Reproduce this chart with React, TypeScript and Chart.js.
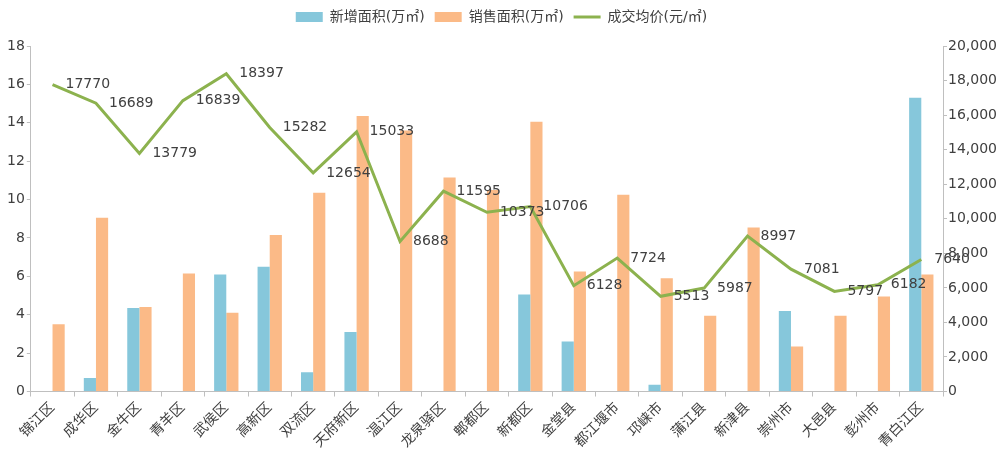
import React, { useEffect, useRef } from "react";
import { Chart, registerables } from "chart.js";

Chart.register(...registerables);

const categories = ["锦江区","成华区","金牛区","青羊区","武侯区","高新区","双流区","天府新区","温江区","龙泉驿区","郫都区","新都区","金堂县","都江堰市","邛崃市","蒲江县","新津县","崇州市","大邑县","彭州市","青白江区"];
const newArea = [0, 0.7, 4.35, 0, 6.1, 6.5, 1.0, 3.1, 0, 0, 0, 5.05, 2.6, 0, 0.35, 0, 0, 4.2, 0, 0, 15.3];
const salesArea = [3.5, 9.05, 4.4, 6.15, 4.1, 8.15, 10.35, 14.35, 13.6, 11.15, 10.5, 14.05, 6.25, 10.25, 5.9, 3.95, 8.55, 2.35, 3.95, 4.95, 6.1];
const avgPrice = [17770,16689,13779,16839,18397,15282,12654,15033,8688,11595,10373,10706,6128,7724,5513,5987,8997,7081,5797,6182,7640];
const seriesNames = ["新增面积(万㎡)", "销售面积(万㎡)", "成交均价(元/㎡)"];

const FONT = "'DejaVu Sans', 'Noto Sans CJK SC', sans-serif";
const BLUE = "#86C7DB";
const ORANGE = "#FBBA87";
const GREEN = "#8CB24E";

const labelPlugin = {
  id: "priceLabels",
  afterDatasetsDraw(chart: any) {
    const meta = chart.getDatasetMeta(2);
    const ctx = chart.ctx;
    ctx.save();
    ctx.font = "14px " + FONT;
    ctx.fillStyle = "#404040";
    ctx.textAlign = "left";
    ctx.textBaseline = "middle";
    meta.data.forEach((pt: any, i: number) => {
      ctx.fillText(String(avgPrice[i]), pt.x + 13, pt.y);
    });
    ctx.restore();
  },
};

const legendGap = {
  id: "legendGap",
  beforeInit(chart: any) {
    const legend = chart.legend;
    if (!legend) return;
    const orig = legend.fit;
    legend.fit = function () {
      orig.call(this);
      this.height += 12;
    };
  },
};

export default function App() {
  const ref = useRef<HTMLCanvasElement>(null);
  useEffect(() => {
    document.body.style.margin = "0";
    const chart = new Chart(ref.current!, {
      type: "bar",
      data: {
        labels: categories,
        datasets: [
          { type: "bar", label: seriesNames[0], data: newArea, backgroundColor: BLUE, borderWidth: 0, yAxisID: "y", order: 2, pointStyle: "rect", categoryPercentage: 0.56, barPercentage: 1.0 } as any,
          { type: "bar", label: seriesNames[1], data: salesArea, backgroundColor: ORANGE, borderWidth: 0, yAxisID: "y", order: 2, pointStyle: "rect", categoryPercentage: 0.56, barPercentage: 1.0 } as any,
          { type: "line", label: seriesNames[2], data: avgPrice, borderColor: GREEN, backgroundColor: GREEN, borderWidth: 3, pointRadius: 0, tension: 0, yAxisID: "y1", order: 0, pointStyle: "line" } as any,
        ],
      },
      options: {
        responsive: true,
        maintainAspectRatio: false,
        animation: false,
        layout: { padding: { left: 5, right: 2, top: 0, bottom: 10 } },
        plugins: {
          legend: {
            position: "top",
            labels: {
              usePointStyle: true,
              pointStyleWidth: 27,
              boxHeight: 10,
              color: "#404040",
              font: { family: FONT, size: 14 },
              padding: 10,
              sort: (a: any, b: any) => a.datasetIndex - b.datasetIndex,
            },
          },
          tooltip: { enabled: false },
        },
        scales: {
          x: {
            grid: { drawOnChartArea: false, offset: true, color: "#BFBFBF", tickLength: 5 },
            border: { color: "#BFBFBF" },
            ticks: { maxRotation: 45, minRotation: 45, color: "#404040", font: { family: FONT, size: 14 }, autoSkip: false },
          },
          y: {
            position: "left",
            min: 0,
            max: 18,
            grid: { drawOnChartArea: false, color: "#BFBFBF", tickLength: 4 },
            border: { color: "#BFBFBF" },
            ticks: { stepSize: 2, color: "#404040", font: { family: FONT, size: 14 }, padding: 2 },
          },
          y1: {
            position: "right",
            min: 0,
            max: 20000,
            grid: { drawOnChartArea: false, color: "#BFBFBF", tickLength: 4 },
            border: { color: "#BFBFBF" },
            ticks: { stepSize: 2000, color: "#404040", font: { family: FONT, size: 14 }, padding: 1 },
          },
        },
      },
      plugins: [labelPlugin, legendGap],
    });
    return () => chart.destroy();
  }, []);
  return (
    <div style={{ width: 1000, height: 464, position: "relative" }}>
      <canvas ref={ref} />
    </div>
  );
}
